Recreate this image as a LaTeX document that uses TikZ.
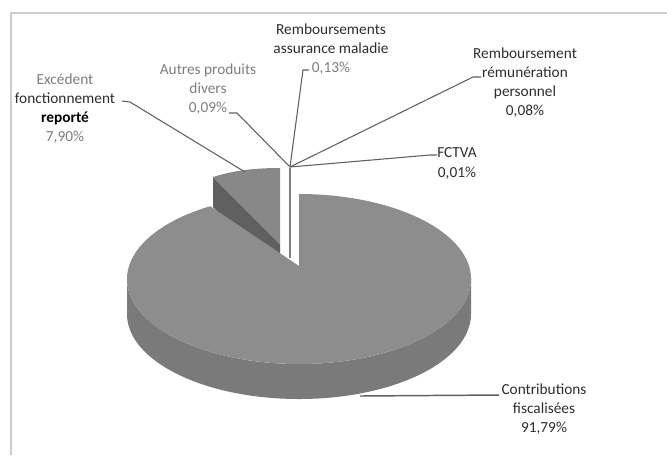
\documentclass[tikz,border=0pt]{standalone}
\usepackage{fontspec}
\setmainfont{Carlito}
\definecolor{topface}{RGB}{141,141,141}
\definecolor{sideface}{RGB}{122,122,122}
\definecolor{cutface}{RGB}{96,96,96}
\definecolor{exctop}{RGB}{136,136,136}
\definecolor{framec}{RGB}{205,205,205}
\definecolor{dk}{RGB}{45,45,45}
\definecolor{lg}{RGB}{125,125,125}
\definecolor{ld}{RGB}{95,95,95}
\begin{document}
\begin{tikzpicture}[x=0.75pt,y=-0.75pt,
  lbl/.style={align=center, inner sep=0pt, font=\fontsize{11.5}{14.3}\selectfont, text=dk},
  lead/.style={draw=ld, line width=0.8pt},
  thin slice/.style={draw=lg, line width=0.9pt}]
\useasboundingbox (0,0) rectangle (667,455);
% frame
\draw[framec, line width=1.3pt] (11,455) -- (11,13) -- (667,13);

% side of the big slice
\fill[sideface] (127,279) arc[start angle=180, end angle=0, x radius=172, y radius=85]
  -- (471,314) arc[start angle=0, end angle=180, x radius=172, y radius=85] -- cycle;

% Excedent slice: cut face and top face
\fill[cutface] (213,177) -- (280,244) -- (280,274) -- (213,207) -- cycle;
\fill[exctop] (280,244) -- (213,177) .. controls (235,170) and (257,168) .. (280,168) -- cycle;

% big slice top face
\fill[topface] (299,266) -- (210.2,206.2)
  arc[start angle=238.9, end angle=-90, x radius=172, y radius=85] -- cycle;

% tiny slices
\draw[thin slice] (290,168) -- (290,258);

% labels
\node[lbl] (exc) at (65,108.5) {{\color{lg}Excédent}\\fonctionnement\\{\color{black}\bfseries reporté}\\{\color{lg}7,90\%}};
\node[lbl] (aut) at (208,89.5) {{\color{lg}Autres produits}\\{\color{lg}divers}\\{\color{lg}0,09\%}};
\node[lbl] (ass) at (331,49) {Remboursements\\assurance maladie\\{\color{lg}0,13\%}};
\node[lbl] (rem) at (525,83) {Remboursement\\rémunération\\personnel\\0,08\%};
\node[lbl] (fct) at (457,163.5) {FCTVA\\0,01\%};
\node[lbl] (con) at (544,409) {Contributions\\fiscalisées\\91,79\%};

% leader points
\coordinate (P) at (290,167);
\coordinate (e1) at (122,101);
\coordinate (e2) at (130,102);
\coordinate (e3) at (245,172);
\coordinate (a1) at (229,113);
\coordinate (a2) at (237,113);
\coordinate (s1) at (309,70);
\coordinate (s2) at (303,70);
\coordinate (r1) at (481,77);
\coordinate (r2) at (473,77);
\coordinate (f1) at (437,155);
\coordinate (f2) at (430,155);
\coordinate (c1) at (360,396);
\coordinate (c2) at (499,395);

\draw[lead] (e1) -- (e2) -- (e3);
\draw[lead] (a1) -- (a2) -- (P);
\draw[lead] (s1) -- (s2) -- (P);
\draw[lead] (r1) -- (r2) -- (P);
\draw[lead] (f1) -- (f2) -- (P);
\draw[lead, line width=1.1pt] (c1) -- (c2);
\end{tikzpicture}
\end{document}
